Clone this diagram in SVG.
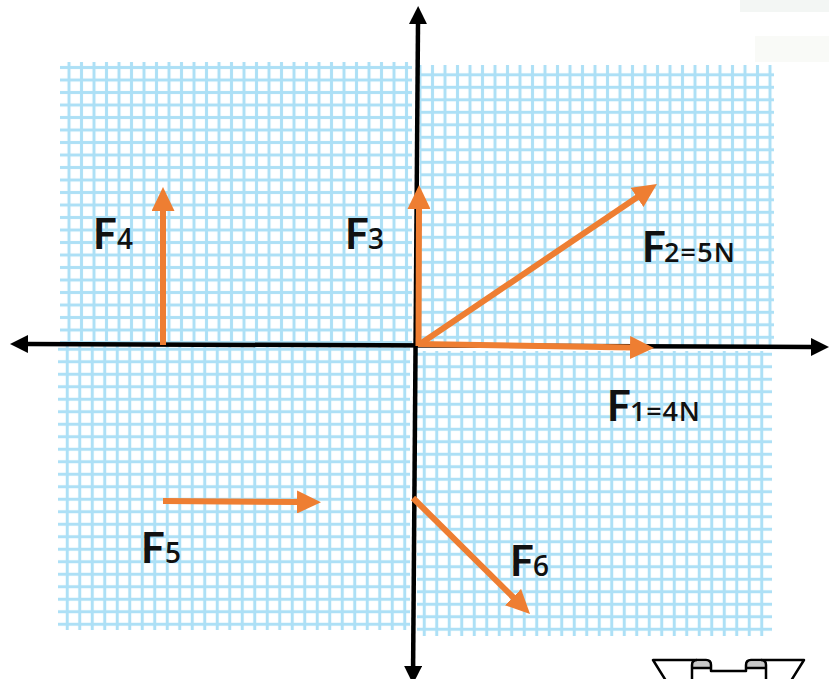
<svg xmlns="http://www.w3.org/2000/svg" width="829" height="679" viewBox="0 0 829 679">
<defs>
<style>
.grid{stroke:#ade0f6;stroke-width:3;}
.force{stroke:#ee7e32;stroke-width:6;fill:none;stroke-linecap:butt;}
.axis{stroke:#000;stroke-width:4.5;fill:none;}
.F{font-family:Lato,"Liberation Sans",sans-serif;font-weight:bold;font-size:42px;fill:#111;}
.sub{font-family:"Open Sans","Liberation Sans",sans-serif;font-weight:600;font-size:28px;fill:#111;}
.subb{font-family:"Open Sans","Liberation Sans",sans-serif;font-weight:600;font-size:27px;fill:#111;}
.icon{stroke:#000;stroke-width:2.5;fill:none;stroke-linejoin:round;}
</style>
<pattern id="gTL" patternUnits="userSpaceOnUse" x="62.75" y="61.25" width="12.5" height="12.5">
<rect width="12.5" height="12.5" fill="#fff"/>
<line class="grid" x1="6.25" y1="0" x2="6.25" y2="12.5"/>
<line class="grid" x1="0" y1="6.25" x2="12.5" y2="6.25"/>
</pattern>
<pattern id="gTR" patternUnits="userSpaceOnUse" x="638.75" y="81.05" width="12.5" height="12.5">
<rect width="12.5" height="12.5" fill="#fff"/>
<line class="grid" x1="6.25" y1="0" x2="6.25" y2="12.5"/>
<line class="grid" x1="0" y1="6.25" x2="12.5" y2="6.25"/>
</pattern>
<pattern id="gBL" patternUnits="userSpaceOnUse" x="61" y="343" width="12.5" height="12.5">
<rect width="12.5" height="12.5" fill="#fff"/>
<line class="grid" x1="6.25" y1="0" x2="6.25" y2="12.5"/>
<line class="grid" x1="0" y1="6.25" x2="12.5" y2="6.25"/>
</pattern>
<pattern id="gBR" patternUnits="userSpaceOnUse" x="418" y="348" width="12.5" height="12.5">
<rect width="12.5" height="12.5" fill="#fff"/>
<line class="grid" x1="6.25" y1="0" x2="6.25" y2="12.5"/>
<line class="grid" x1="0" y1="6.25" x2="12.5" y2="6.25"/>
</pattern>
<marker id="oh" markerUnits="userSpaceOnUse" viewBox="0 0 24 23" refX="2" refY="11.5" markerWidth="24" markerHeight="23" orient="auto">
<path d="M0,0 L24,11.5 L0,23 z" fill="#ee7e32"/>
</marker>
<marker id="bh" markerUnits="userSpaceOnUse" viewBox="0 0 18 18" refX="1" refY="9" markerWidth="18" markerHeight="18" orient="auto-start-reverse">
<path d="M0,0 L18,9 L0,18 z" fill="#000"/>
</marker>
</defs>
<rect width="829" height="679" fill="#fff"/>
<g id="noise" opacity="0.35">
<rect x="740" y="0" width="89" height="12" fill="#dfe8e0"/>
<rect x="755" y="36" width="74" height="26" fill="#eef3ea"/>
</g>
<g id="grid">
<rect x="60" y="62" width="352" height="283" fill="url(#gTL)"/>
<rect x="420" y="65" width="354" height="280" fill="url(#gTR)"/>
<rect x="58" y="346" width="352" height="284" fill="url(#gBL)"/>
<rect x="417" y="351" width="355" height="285" fill="url(#gBR)"/>
</g>
<g id="connectors">
<g id="axes">
<line class="axis" x1="27" y1="344" x2="812" y2="347" marker-start="url(#bh)" marker-end="url(#bh)"/>
<line class="axis" x1="418" y1="23" x2="413.1" y2="667" marker-start="url(#bh)" marker-end="url(#bh)"/>
</g>
<g id="forces">
<line id="f1" class="force" x1="418" y1="344" x2="632" y2="347.6" marker-end="url(#oh)"/>
<line id="f2" class="force" x1="420" y1="344" x2="638.7" y2="196.3" marker-end="url(#oh)"/>
<line id="f3" class="force" x1="418.5" y1="346" x2="419" y2="207" marker-end="url(#oh)"/>
<line id="f4" class="force" x1="163" y1="345" x2="163" y2="209" marker-end="url(#oh)"/>
<line id="f5" class="force" x1="163" y1="501" x2="299" y2="502" marker-end="url(#oh)"/>
<line id="f6" class="force" x1="413" y1="498" x2="514.4" y2="598.5" marker-end="url(#oh)"/>
</g>
</g>
<g id="label-F4"><text class="F" x="93" y="249">F</text><text class="sub" x="117" y="249">4</text></g>
<g id="label-F3"><text class="F" x="345" y="249">F</text><text class="sub" x="368" y="249">3</text></g>
<g id="label-F2"><text class="F" x="642" y="262">F</text><text class="subb" x="664" y="262" textLength="71" lengthAdjust="spacing">2=5N</text></g>
<g id="label-F1"><text class="F" x="607" y="421">F</text><text class="subb" x="630" y="421" textLength="70" lengthAdjust="spacing">1=4N</text></g>
<g id="label-F5"><text class="F" x="141" y="563">F</text><text class="sub" x="165" y="563">5</text></g>
<g id="label-F6"><text class="F" x="510" y="576">F</text><text class="sub" x="533" y="576">6</text></g>
<g id="icon">
<rect x="692" y="662" width="19" height="6" fill="#c8c8c8"/>
<rect x="746" y="662" width="20" height="6" fill="#c8c8c8"/>
<path class="icon" d="M668,684 L653,660 L706,660 Q711,660 711,665 L711,671 L746,671 L746,665 Q746,660 751,660 L804,660 L789,684"/>
<path class="icon" d="M692,684 L692,665 Q692,660 697,660 M692,668 L711,668"/>
<path class="icon" d="M766,684 L766,665 Q766,660 761,660 M746,668 L766,668"/>
</g>
</svg>
